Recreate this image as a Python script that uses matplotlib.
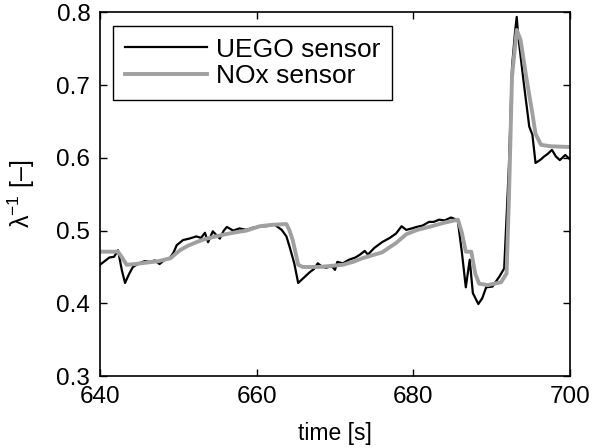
import matplotlib
matplotlib.use('Agg')
import matplotlib.pyplot as plt

# UEGO sensor (black)
t_uego = [640.0, 640.6, 641.2, 641.8, 642.3, 642.8, 643.2, 643.7, 644.2, 645.0,
          645.7, 646.4, 647.0, 647.6, 648.3, 648.9, 649.4, 649.8, 650.6, 651.4,
          652.3, 652.9, 653.4, 653.8, 654.4, 655.3, 655.8, 656.2, 657.0, 657.8,
          658.7, 659.5, 660.4, 661.2, 662.3, 663.2, 663.8, 664.2, 664.8, 665.3,
          666.1, 666.8, 667.3, 667.8, 668.4, 668.9, 669.6, 670.0, 670.3, 671.0,
          671.8, 672.6, 673.2, 673.8, 674.2, 675.0, 676.0, 677.0, 677.8, 678.5,
          679.1, 679.8, 680.4, 681.2, 682.0, 682.6, 683.3, 684.0, 684.8, 685.3,
          685.7, 686.2, 686.7, 687.2, 687.6, 688.3, 688.8, 689.3, 690.1, 691.0,
          691.6, 692.2, 692.6, 693.0, 693.2, 693.4, 694.1, 694.8, 695.2, 695.6,
          696.3, 696.7, 697.1, 697.7, 698.2, 698.7, 699.4, 700.0]
lam_uego = [0.453, 0.458, 0.463, 0.464, 0.473, 0.445, 0.428, 0.440, 0.450, 0.455,
            0.458, 0.457, 0.459, 0.454, 0.460, 0.462, 0.470, 0.480, 0.487, 0.489,
            0.492, 0.490, 0.497, 0.484, 0.499, 0.489, 0.500, 0.505, 0.500, 0.503,
            0.501, 0.504, 0.506, 0.506, 0.508, 0.501, 0.492, 0.478, 0.455, 0.428,
            0.436, 0.443, 0.447, 0.455, 0.450, 0.449, 0.451, 0.446, 0.457, 0.455,
            0.460, 0.463, 0.467, 0.472, 0.467, 0.476, 0.484, 0.490, 0.496, 0.506,
            0.501, 0.503, 0.505, 0.507, 0.512, 0.512, 0.515, 0.514, 0.518, 0.516,
            0.512, 0.470, 0.422, 0.460, 0.414, 0.399, 0.407, 0.422, 0.423, 0.437,
            0.448, 0.588, 0.725, 0.775, 0.794, 0.767, 0.703, 0.643, 0.632, 0.593,
            0.598, 0.602, 0.605, 0.611, 0.602, 0.597, 0.604, 0.598]

# NOx sensor (grey)
t_nox = [640.0, 642.3, 642.7, 643.4, 644.5, 646.0, 647.5, 649.0, 650.2, 651.2,
         652.3, 653.3, 654.4, 656.0, 657.5, 658.7, 660.4, 662.0, 663.8, 664.2,
         664.6, 665.0, 665.3, 665.9, 668.0, 671.0, 672.3, 673.5, 676.0, 677.8,
         679.1, 680.5, 682.0, 684.0, 685.7, 686.2, 686.7, 687.4, 687.9, 688.4,
         689.5, 691.2, 691.9, 692.2, 692.6, 693.2, 693.7, 694.4, 695.2, 695.6,
         696.3, 697.5, 700.0]
lam_nox = [0.471, 0.471, 0.465, 0.453, 0.454, 0.456, 0.458, 0.462, 0.473, 0.479,
           0.484, 0.488, 0.491, 0.495, 0.498, 0.500, 0.506, 0.508, 0.509, 0.500,
           0.487, 0.468, 0.453, 0.450, 0.450, 0.453, 0.457, 0.462, 0.470, 0.483,
           0.495, 0.501, 0.505, 0.511, 0.515, 0.497, 0.471, 0.471, 0.441, 0.427,
           0.425, 0.429, 0.441, 0.542, 0.712, 0.776, 0.762, 0.712, 0.661, 0.633,
           0.618, 0.616, 0.615]

x_ticks = [640, 660, 680, 700]
y_ticks = [0.3, 0.4, 0.5, 0.6, 0.7, 0.8]

plt.rcParams['font.family'] = ['Liberation Sans', 'DejaVu Sans']
plt.rcParams['mathtext.fontset'] = 'custom'
plt.rcParams['mathtext.rm'] = 'Liberation Sans'
plt.rcParams['mathtext.it'] = 'Liberation Sans'

fig = plt.figure(figsize=(5.93, 4.48), dpi=100)
ax = fig.add_axes([0.1686, 0.1607, 0.7926, 0.8114])

ax.plot(t_uego, lam_uego, color='black', lw=1.6, label='UEGO sensor')
ax.plot(t_nox, lam_nox, color='#a0a0a0', lw=2.8, label='NOx sensor')

ax.set_xlim(640, 700)
ax.set_ylim(0.3, 0.8)
ax.set_xticks(x_ticks)
ax.set_yticks(y_ticks)
ax.set_yticklabels([f'{v:.1f}' for v in y_ticks])
ax.tick_params(direction='in', top=True, right=True, length=5, width=1,
               labelsize=17.5, pad=7)
for s in ax.spines.values():
    s.set_linewidth(1.2)

ax.set_xlabel('time [s]', fontsize=16.5, labelpad=10)
ax.set_ylabel(r'λ$^{-1}$ [–]', fontsize=18, labelpad=14)

leg = ax.legend(loc='upper left', bbox_to_anchor=(0.0277, 0.9637),
                borderaxespad=0, fontsize=19, handlelength=3.1,
                handletextpad=0.35, labelspacing=0.1, borderpad=0.45,
                fancybox=False, framealpha=1)
leg.get_frame().set_edgecolor('black')
leg.get_frame().set_linewidth(1.0)

fig.savefig('out.png', dpi=100)
